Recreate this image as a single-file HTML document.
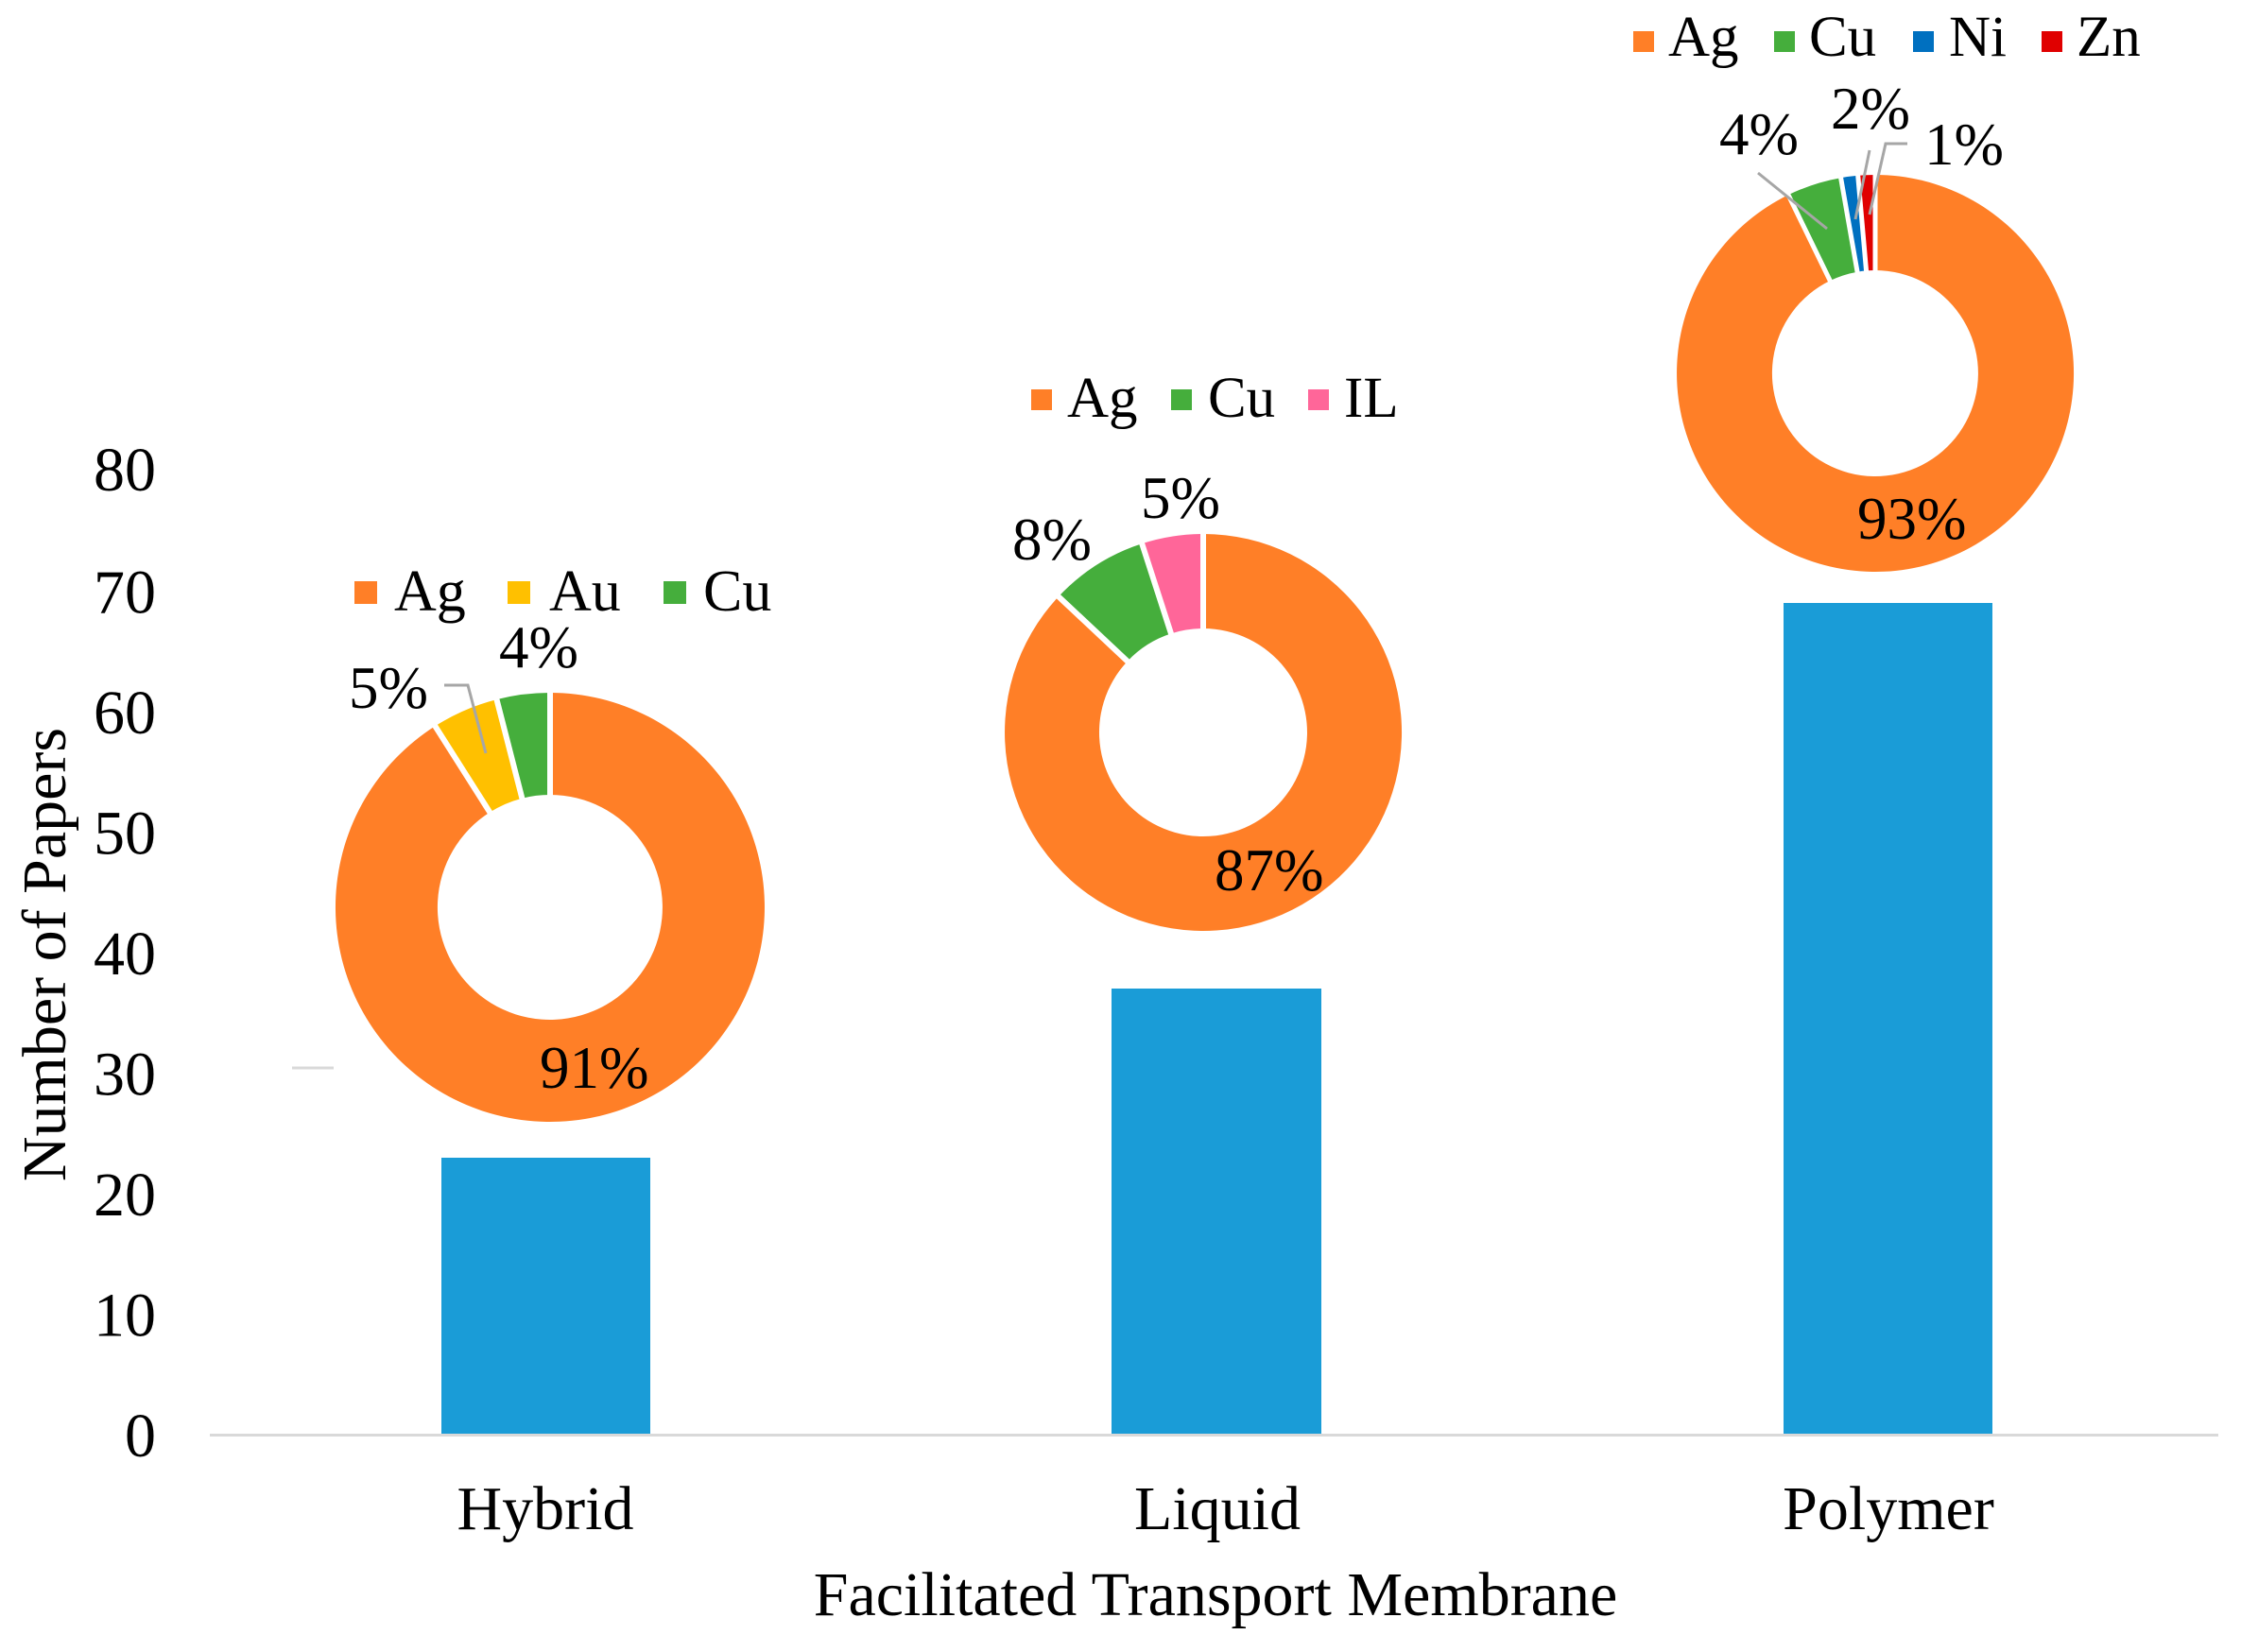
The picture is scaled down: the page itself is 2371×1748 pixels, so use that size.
<!DOCTYPE html>
<html>
<head>
<meta charset="utf-8">
<style>
  html, body { margin:0; padding:0; background:#ffffff; }
  svg { display:block; }
  text { font-family: "Liberation Serif", "Times New Roman", serif; fill:#000; }
</style>
</head>
<body>
<svg width="2371" height="1748" viewBox="0 0 2371 1748" xmlns="http://www.w3.org/2000/svg">
  <rect x="0" y="0" width="2371" height="1748" fill="#ffffff"/>

  <!-- Y axis tick labels -->
  <g font-size="66" text-anchor="end">
    <text x="165" y="1541">0</text>
    <text x="165" y="1413.5">10</text>
    <text x="165" y="1286">20</text>
    <text x="165" y="1158.5">30</text>
    <text x="165" y="1031">40</text>
    <text x="165" y="903.5">50</text>
    <text x="165" y="776">60</text>
    <text x="165" y="648.5">70</text>
    <text x="165" y="519">80</text>
  </g>

  <!-- Y axis title -->
  <text font-size="66" text-anchor="middle" transform="translate(69,1010) rotate(-90)">Number of Papers</text>

  <!-- stray short line -->
  <line x1="309" y1="1130" x2="353" y2="1130" stroke="#d9d9d9" stroke-width="3"/>

  <!-- Bars -->
  <rect x="467" y="1225" width="221" height="293" fill="#1a9cd7"/>
  <rect x="1176" y="1046" width="222" height="472" fill="#1a9cd7"/>
  <rect x="1887" y="638" width="221" height="880" fill="#1a9cd7"/>

  <!-- X axis line -->
  <line x1="222" y1="1518.5" x2="2347" y2="1518.5" stroke="#d9d9d9" stroke-width="3"/>

  <!-- Category labels -->
  <g font-size="66" text-anchor="middle">
    <text x="577" y="1618">Hybrid</text>
    <text x="1288" y="1618">Liquid</text>
    <text x="1998" y="1618">Polymer</text>
  </g>

  <!-- X axis title -->
  <text x="1286" y="1709" font-size="66" text-anchor="middle">Facilitated Transport Membrane</text>

  <!-- ===== Hybrid donut ===== -->
  <path d="M582,733 A227,227 0 1 1 460.4,768.3 L518.2,859.5 A119,119 0 1 0 582,841 Z" fill="#ff7f27"/>
  <path d="M460.4,768.3 A227,227 0 0 1 525.5,740.1 L552.4,844.7 A119,119 0 0 0 518.2,859.5 Z" fill="#ffc000"/>
  <path d="M525.5,740.1 A227,227 0 0 1 582,733 L582,841 A119,119 0 0 0 552.4,844.7 Z" fill="#45ae3c"/>
  <g stroke="#ffffff" stroke-width="6">
    <line x1="582" y1="843" x2="582" y2="729"/>
    <line x1="519.3" y1="861.2" x2="458.3" y2="765.0"/>
    <line x1="552.9" y1="846.7" x2="524.5" y2="736.2"/>
  </g>
  <polyline points="470,725 495,725 514,797" fill="none" stroke="#a6a6a6" stroke-width="3"/>
  <g font-size="63">
    <text x="369" y="749">5%</text>
    <text x="528" y="706">4%</text>
    <text x="571" y="1151">91%</text>
  </g>
  <!-- Hybrid legend -->
  <rect x="375" y="615" width="24" height="24" fill="#ff7f27"/>
  <rect x="537" y="615" width="24" height="24" fill="#ffc000"/>
  <rect x="702" y="615" width="24" height="24" fill="#45ae3c"/>
  <g font-size="62">
    <text x="417" y="646">Ag</text>
    <text x="581" y="646">Au</text>
    <text x="744" y="646">Cu</text>
  </g>

  <!-- ===== Liquid donut ===== -->
  <path d="M1273,565 A210,210 0 1 1 1119.9,631.3 L1192.8,699.7 A110,110 0 1 0 1273,665 Z" fill="#ff7f27"/>
  <path d="M1119.9,631.3 A210,210 0 0 1 1208.1,575.3 L1239.0,670.4 A110,110 0 0 0 1192.8,699.7 Z" fill="#45ae3c"/>
  <path d="M1208.1,575.3 A210,210 0 0 1 1273,565 L1273,665 A110,110 0 0 0 1239.0,670.4 Z" fill="#ff6699"/>
  <g stroke="#ffffff" stroke-width="6">
    <line x1="1273" y1="667" x2="1273" y2="561"/>
    <line x1="1194.3" y1="701.1" x2="1117" y2="628.5"/>
    <line x1="1239.6" y1="672.3" x2="1207" y2="571.5"/>
  </g>
  <g font-size="63">
    <text x="1071" y="592">8%</text>
    <text x="1207" y="548">5%</text>
    <text x="1285" y="942">87%</text>
  </g>
  <!-- Liquid legend -->
  <rect x="1091" y="412" width="22" height="22" fill="#ff7f27"/>
  <rect x="1239" y="412" width="22" height="22" fill="#45ae3c"/>
  <rect x="1384" y="412" width="22" height="22" fill="#ff6699"/>
  <g font-size="61">
    <text x="1129" y="441">Ag</text>
    <text x="1278" y="441">Cu</text>
    <text x="1422" y="441">IL</text>
  </g>

  <!-- ===== Polymer donut ===== -->
  <path d="M1984,185 A210,210 0 1 1 1891.9,206.3 L1936.2,297.0 A109,109 0 1 0 1984,286 Z" fill="#ff7f27"/>
  <path d="M1891.9,206.3 A210,210 0 0 1 1947.5,188.2 L1965.1,287.7 A109,109 0 0 0 1936.2,297.0 Z" fill="#45ae3c"/>
  <path d="M1947.5,188.2 A210,210 0 0 1 1965.7,185.8 L1974.5,286.4 A109,109 0 0 0 1965.1,287.7 Z" fill="#0070c0"/>
  <path d="M1965.7,185.8 A210,210 0 0 1 1984,185 L1984,286 A109,109 0 0 0 1974.5,286.4 Z" fill="#e00000"/>
  <g stroke="#ffffff" stroke-width="5">
    <line x1="1984" y1="288" x2="1984" y2="181"/>
    <line x1="1937.1" y1="298.8" x2="1890" y2="202"/>
    <line x1="1965.4" y1="289.6" x2="1946.8" y2="183.5"/>
    <line x1="1974.7" y1="288.4" x2="1965.3" y2="181"/>
  </g>
  <g fill="none" stroke="#a6a6a6" stroke-width="3">
    <line x1="1860" y1="183" x2="1933" y2="242"/>
    <line x1="1978" y1="159" x2="1963" y2="232"/>
    <polyline points="2018,152 1995,152 1978,227"/>
  </g>
  <g font-size="63">
    <text x="1819" y="163">4%</text>
    <text x="1937" y="136">2%</text>
    <text x="2036" y="174">1%</text>
    <text x="1965" y="570">93%</text>
  </g>
  <!-- Polymer legend -->
  <rect x="1728" y="33" width="22" height="22" fill="#ff7f27"/>
  <rect x="1877" y="33" width="22" height="22" fill="#45ae3c"/>
  <rect x="2024" y="33" width="22" height="22" fill="#0070c0"/>
  <rect x="2160" y="33" width="22" height="22" fill="#e00000"/>
  <g font-size="61">
    <text x="1765" y="59">Ag</text>
    <text x="1914" y="59">Cu</text>
    <text x="2062" y="59">Ni</text>
    <text x="2197" y="59">Zn</text>
  </g>
</svg>
</body>
</html>
